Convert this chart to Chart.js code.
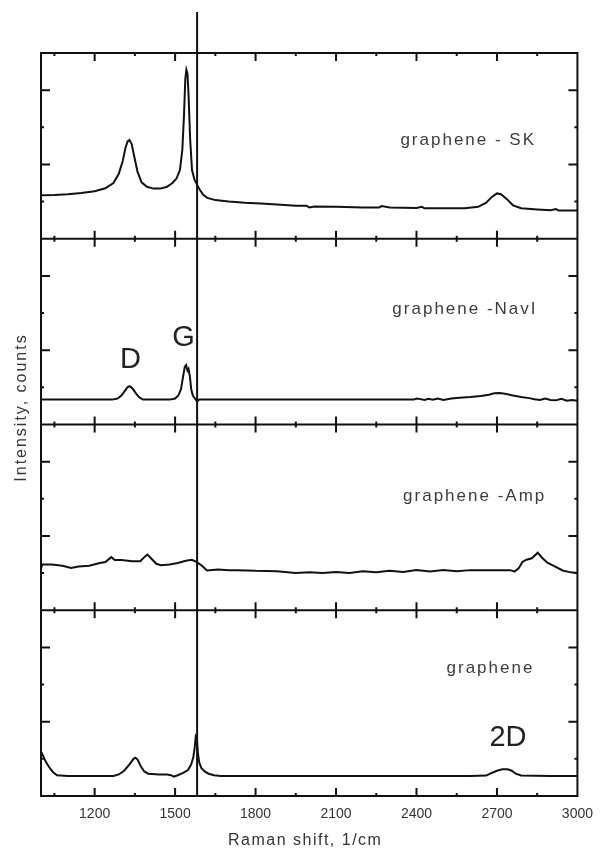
<!DOCTYPE html>
<html>
<head>
<meta charset="utf-8">
<script src="https://cdn.jsdelivr.net/npm/chart.js@4/dist/chart.umd.min.js"></script>
<style>
  html, body { margin: 0; padding: 0; background: #fff; }
</style>
</head>
<body>
<canvas id="raman" width="603" height="861"></canvas>
<script>
// axis ticks (Raman shift, 1/cm)
const xMajorTicks = [1200, 1500, 1800, 2100, 2400, 2700, 3000];
const xMinorTicks = [1050, 1350, 1650, 1950, 2250, 2550, 2850];

// every panel is 5 intensity units tall, stacked top to bottom
const panelNames = ['graphene - SK', 'graphene -NavI', 'graphene -Amp', 'graphene'];
const yMajorInPanel = [2, 4];
const yMinorInPanel = [1, 3];

// graphene - SK
const skShift = [1000, 1050, 1100, 1150, 1200, 1240, 1270, 1290, 1305, 1315, 1323, 1330, 1338, 1348, 1360, 1375, 1395, 1420, 1445, 1470, 1490, 1505, 1518, 1527, 1533, 1538, 1542, 1546, 1550, 1556, 1563, 1572, 1582, 1592, 1605, 1620, 1650, 1700, 1760, 1820, 1880, 1950, 1990, 2000, 2020, 2100, 2200, 2260, 2270, 2300, 2400, 2420, 2430, 2500, 2580, 2630, 2660, 2680, 2700, 2715, 2735, 2760, 2790, 2850, 2900, 2920, 2930, 2950, 3000];
const skCounts = [1.17, 1.18, 1.2, 1.23, 1.28, 1.36, 1.5, 1.75, 2.1, 2.45, 2.62, 2.66, 2.55, 2.2, 1.8, 1.52, 1.4, 1.35, 1.35, 1.4, 1.5, 1.62, 1.85, 2.4, 3.3, 4.3, 4.55, 4.45, 3.9, 2.7, 1.85, 1.6, 1.45, 1.32, 1.18, 1.1, 1.04, 1.0, 0.97, 0.95, 0.92, 0.89, 0.89, 0.84, 0.87, 0.86, 0.84, 0.84, 0.88, 0.84, 0.83, 0.86, 0.82, 0.82, 0.82, 0.86, 0.97, 1.12, 1.22, 1.2, 1.08, 0.9, 0.82, 0.79, 0.77, 0.8, 0.76, 0.76, 0.76];

// graphene -NavI
const naviShift = [1000, 1100, 1200, 1265, 1285, 1300, 1312, 1322, 1330, 1340, 1352, 1365, 1380, 1420, 1480, 1500, 1512, 1522, 1530, 1536, 1541, 1546, 1550, 1555, 1560, 1566, 1574, 1582, 1590, 1700, 1900, 2100, 2300, 2390, 2400, 2410, 2430, 2445, 2460, 2480, 2500, 2530, 2560, 2600, 2640, 2670, 2690, 2710, 2730, 2760, 2790, 2820, 2840, 2860, 2880, 2900, 2920, 2940, 2960, 2980, 3000];
const naviCounts = [0.67, 0.67, 0.67, 0.67, 0.7, 0.78, 0.9, 1.0, 1.03, 0.98, 0.86, 0.74, 0.67, 0.67, 0.67, 0.7, 0.78, 0.95, 1.3, 1.55, 1.6, 1.45, 1.5, 1.3, 0.95, 0.78, 0.7, 0.62, 0.67, 0.67, 0.67, 0.67, 0.67, 0.67, 0.7, 0.69, 0.66, 0.69, 0.67, 0.7, 0.66, 0.7, 0.72, 0.74, 0.77, 0.8, 0.84, 0.85, 0.83, 0.78, 0.74, 0.71, 0.68, 0.66, 0.7, 0.66, 0.65, 0.69, 0.64, 0.66, 0.64];

// graphene -Amp
const ampShift = [1000, 1005, 1040, 1080, 1112, 1140, 1180, 1219, 1240, 1262, 1275, 1300, 1340, 1370, 1388, 1397, 1410, 1430, 1447, 1480, 1510, 1540, 1562, 1580, 1600, 1619, 1660, 1700, 1731, 1800, 1880, 1950, 2000, 2050, 2100, 2150, 2200, 2250, 2300, 2350, 2400, 2450, 2500, 2550, 2600, 2650, 2700, 2750, 2765, 2780, 2795, 2810, 2830, 2852, 2870, 2888, 2910, 2945, 2975, 3000];
const ampCounts = [1.12, 1.23, 1.23, 1.2, 1.14, 1.18, 1.2, 1.27, 1.3, 1.43, 1.35, 1.35, 1.32, 1.32, 1.45, 1.5, 1.4, 1.25, 1.21, 1.23, 1.27, 1.33, 1.36, 1.3, 1.2, 1.07, 1.1, 1.08, 1.08, 1.06, 1.05, 1.0, 1.02, 1.0, 1.03, 1.0, 1.05, 1.02, 1.06, 1.03, 1.08, 1.04, 1.08, 1.05, 1.08, 1.08, 1.08, 1.08, 1.04, 1.12, 1.3, 1.36, 1.4, 1.55, 1.4, 1.28, 1.2, 1.07, 1.02, 1.0];

// graphene
const grShift = [1000, 1008, 1018, 1030, 1045, 1060, 1100, 1200, 1270, 1290, 1310, 1330, 1345, 1352, 1360, 1372, 1385, 1400, 1440, 1470, 1485, 1495, 1510, 1530, 1548, 1560, 1568, 1573, 1577, 1581, 1585, 1590, 1598, 1610, 1625, 1645, 1670, 1800, 2000, 2200, 2400, 2600, 2660, 2680, 2700, 2720, 2740, 2755, 2770, 2790, 2900, 3000];
const grCounts = [1.2, 1.08, 0.92, 0.78, 0.64, 0.56, 0.54, 0.54, 0.54, 0.58, 0.68, 0.85, 1.0, 1.03, 0.98, 0.8, 0.66, 0.6, 0.58, 0.58, 0.56, 0.52, 0.56, 0.62, 0.7, 0.85, 1.05, 1.3, 1.6, 1.55, 1.15, 0.9, 0.75, 0.66, 0.6, 0.56, 0.54, 0.54, 0.54, 0.54, 0.54, 0.54, 0.55, 0.62, 0.68, 0.72, 0.72, 0.68, 0.6, 0.55, 0.54, 0.54];

// vertical guide through the G band
const guideShift = 1582;

// top panel first
const spectra = [
  { shift: skShift, counts: skCounts },
  { shift: naviShift, counts: naviCounts },
  { shift: ampShift, counts: ampCounts },
  { shift: grShift, counts: grCounts }
];
const PANEL = 5;
const nPanels = spectra.length;

// text placed in data coordinates: [panel index, shift, height inside panel]
const nameSpots = [[0, 2340, 2.66], [1, 2310, 3.1], [2, 2350, 3.06], [3, 2512, 3.43]];
const peakLabels = [
  { text: 'D', panel: 1, shift: 1334, at: 1.74 },
  { text: 'G', panel: 1, shift: 1531, at: 2.32 },
  { text: '2D', panel: 3, shift: 2741, at: 1.55 }
];

const FONT = '"Liberation Sans", Arial, sans-serif';
const offsetOf = (i) => (nPanels - 1 - i) * PANEL;

const datasets = spectra.map((s, i) => ({
  data: s.shift.map((x, k) => ({ x: x, y: s.counts[k] + offsetOf(i) })),
  borderColor: '#111',
  borderWidth: 2,
  pointRadius: 0,
  tension: 0,
  fill: false
}));

const framePlugin = {
  id: 'frame',
  afterDatasetsDraw(chart) {
    const ctx = chart.ctx;
    const xs = chart.scales.x;
    const ys = chart.scales.y;
    const area = chart.chartArea;
    ctx.save();
    ctx.strokeStyle = '#111';
    ctx.lineWidth = 2;
    ctx.lineCap = 'butt';

    // frame and panel separators
    ctx.beginPath();
    ctx.moveTo(area.left, area.top);
    ctx.lineTo(area.left, area.bottom);
    ctx.moveTo(area.right, area.top);
    ctx.lineTo(area.right, area.bottom);
    for (let p = 0; p <= nPanels; p++) {
      const y = ys.getPixelForValue(p * PANEL);
      ctx.moveTo(area.left - 1, y);
      ctx.lineTo(area.right + 1, y);
    }
    ctx.stroke();

    // inward x ticks on top and bottom of each panel
    const xTick = (vals, len) => {
      ctx.beginPath();
      for (let p = 0; p <= nPanels; p++) {
        const y = ys.getPixelForValue(p * PANEL);
        vals.forEach(v => {
          if (v <= xs.min || v >= xs.max) return;
          const x = xs.getPixelForValue(v);
          if (p > 0) { ctx.moveTo(x, y); ctx.lineTo(x, y + len); }
          if (p < nPanels) { ctx.moveTo(x, y); ctx.lineTo(x, y - len); }
        });
      }
      ctx.stroke();
    };
    xTick(xMajorTicks, 8);
    xTick(xMinorTicks, 3);

    // inward y ticks on both sides
    const yTick = (vals, len) => {
      ctx.beginPath();
      for (let p = 0; p < nPanels; p++) {
        vals.forEach(v => {
          const y = ys.getPixelForValue(p * PANEL + v);
          ctx.moveTo(area.left, y); ctx.lineTo(area.left + len, y);
          ctx.moveTo(area.right, y); ctx.lineTo(area.right - len, y);
        });
      }
      ctx.stroke();
    };
    yTick(yMajorInPanel, 9);
    yTick(yMinorInPanel, 3);

    // guide line, runs a bit above the frame
    const gx = xs.getPixelForValue(guideShift);
    ctx.beginPath();
    ctx.moveTo(gx, 12);
    ctx.lineTo(gx, area.bottom);
    ctx.stroke();

    // sample names
    ctx.fillStyle = '#3c3c3c';
    ctx.font = '17px ' + FONT;
    ctx.letterSpacing = '2px';
    ctx.textAlign = 'left';
    ctx.textBaseline = 'middle';
    nameSpots.forEach(([i, sx, h]) => {
      ctx.fillText(panelNames[i], xs.getPixelForValue(sx), ys.getPixelForValue(offsetOf(i) + h));
    });

    // band letters
    ctx.fillStyle = '#222';
    ctx.font = '29px ' + FONT;
    ctx.letterSpacing = '0px';
    ctx.textAlign = 'center';
    peakLabels.forEach(l => {
      ctx.fillText(l.text, xs.getPixelForValue(l.shift), ys.getPixelForValue(offsetOf(l.panel) + l.at));
    });

    // axis titles
    ctx.fillStyle = '#333';
    ctx.font = '16px ' + FONT;
    ctx.letterSpacing = '1.5px';
    ctx.fillText('Raman shift, 1/cm', (area.left + area.right) / 2 - 4, 841);
    ctx.letterSpacing = '2px';
    ctx.translate(22, (area.top + area.bottom) / 2 - 17);
    ctx.rotate(-Math.PI / 2);
    ctx.fillText('Intensity, counts', 0, 0);
    ctx.restore();
  }
};

new Chart(document.getElementById('raman'), {
  type: 'line',
  data: { datasets: datasets },
  options: {
    responsive: false,
    animation: false,
    devicePixelRatio: 1,
    layout: { padding: { left: 41, right: 23, top: 53, bottom: 0 } },
    plugins: { legend: { display: false }, tooltip: { enabled: false } },
    scales: {
      x: {
        type: 'linear',
        min: 1000,
        max: 3000,
        afterBuildTicks: (s) => { s.ticks = xMajorTicks.map(v => ({ value: v })); },
        afterFit: (s) => { s.height = 65; },
        grid: { display: false, drawTicks: false },
        border: { display: false },
        ticks: {
          padding: 10,
          color: '#333',
          font: { size: 14, family: FONT },
          callback: (v) => String(v),
          maxRotation: 0
        }
      },
      y: {
        min: 0,
        max: nPanels * PANEL,
        afterFit: (s) => { s.width = 0; },
        grid: { display: false, drawTicks: false },
        border: { display: false },
        ticks: { display: false }
      }
    }
  },
  plugins: [framePlugin]
});
</script>
</body>
</html>
